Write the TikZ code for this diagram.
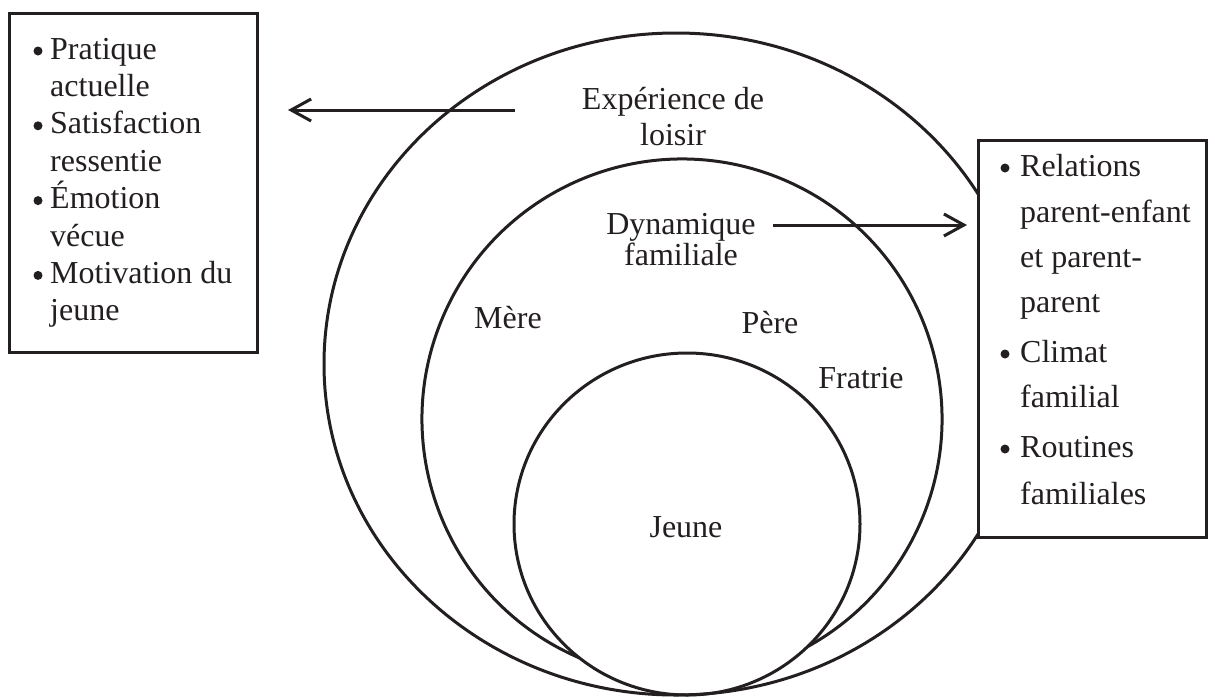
\documentclass[tikz,border=0pt]{standalone}
\usepackage{fontspec}
\setmainfont{Liberation Serif}
\usetikzlibrary{shapes.geometric,arrows.meta}
\definecolor{ink}{RGB}{35,31,32}
\begin{document}
\begin{tikzpicture}[x=1pt,y=-1pt,
  every node/.style={font=\fontsize{32}{38}\selectfont, text=ink, inner sep=0pt},
  ring/.style={draw=ink, line width=3pt, ellipse, inner sep=0pt},
  ringline/.style={draw=ink, line width=3pt},
  frame/.style={draw=ink, line width=3pt, fill=white, rectangle, inner sep=0pt},
  tag/.style={anchor=base},
  entry/.style={anchor=base west},
  dot/.style={circle, fill=ink, minimum size=9pt, inner sep=0pt},
  link/.style={draw=ink, line width=3pt, -{Straight Barb[length=20pt,width=22pt]}}]
\useasboundingbox (0,0) rectangle (1215,697);

% outer ring: leisure experience
\node[ring, minimum width=704pt, minimum height=662pt] (outer) at (676,364) {};
% inner ring: the young person
\node[ring, minimum width=346pt, minimum height=342pt] (inner) at (687,524) {};
% middle ring: family dynamics, whose lower part runs along the inner ring
\coordinate (mc) at (682,419);
\draw[ringline] (mc) ++(113.3:260) arc[start angle=113.3, end angle=420.96, radius=260];

% side frames
\node[frame, minimum width=248pt, minimum height=339pt] (leftbox) at (133,182.5) {};
\node[frame, minimum width=228pt, minimum height=397pt] (rightbox) at (1092,338.5) {};

% ring captions
\node[tag] (exp) at (673,109) {Expérience de};
\node[tag] (loisir) at (673,145) {loisir};
\node[tag] (dyn) at (681,234) {Dynamique};
\node[tag] (fam) at (681,265) {familiale};
\node[tag] (mere) at (508,328) {Mère};
\node[tag] (pere) at (770,333) {Père};
\node[tag] (fratrie) at (861,388) {Fratrie};
\node[tag] (jeune) at (686,537) {Jeune};

% left list
\foreach \t [count=\i from 0] in {Pratique, actuelle, Satisfaction, ressentie, Émotion, vécue, Motivation du, jeune}
  \node[entry] (L\i) at (50,59+37.4*\i) {\t};
\foreach \i in {0,2,4,6}
  \node[dot] (LB\i) at (38,51+37.4*\i) {};

% right list
\node[entry] (R0) at (1020,176) {Relations};
\node[entry] (R1) at (1020,222) {parent-enfant};
\node[entry] (R2) at (1020,267) {et parent-};
\node[entry] (R3) at (1020,312) {parent};
\node[entry] (R4) at (1020,362) {Climat};
\node[entry] (R5) at (1020,407) {familial};
\node[entry] (R6) at (1020,457) {Routines};
\node[entry] (R7) at (1020,504) {familiales};
\node[dot] (RB0) at (1005,168) {};
\node[dot] (RB4) at (1005,354) {};
\node[dot] (RB6) at (1005,449) {};

% arrows
\coordinate (a1s) at (515,110);
\coordinate (a1e) at (288,110);
\draw[link] (a1s) -- (a1e);
\coordinate (a2s) at (773,225);
\coordinate (a2e) at (967,225);
\draw[link] (a2s) -- (a2e);
\end{tikzpicture}
\end{document}
